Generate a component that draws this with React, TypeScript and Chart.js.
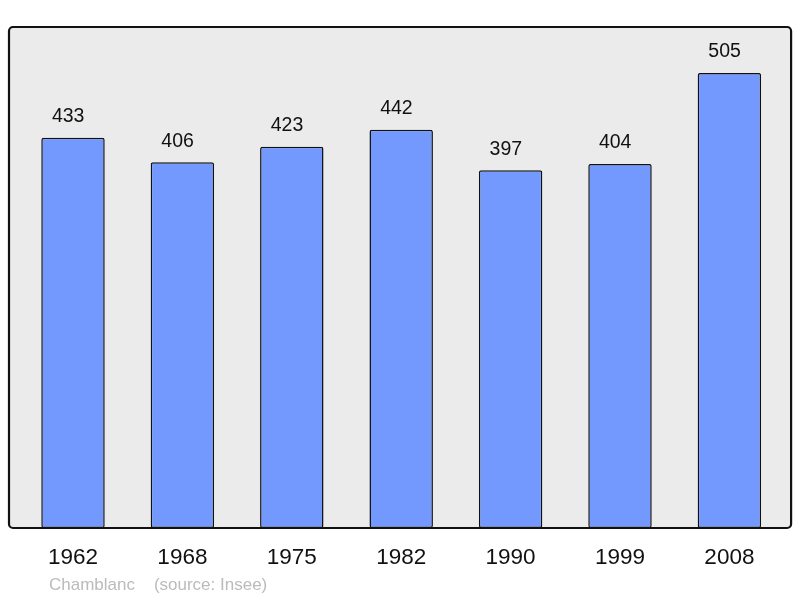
import React, { useEffect, useRef } from "react";
import { Chart, registerables } from "chart.js";

Chart.register(...registerables);

const years = ["1962", "1968", "1975", "1982", "1990", "1999", "2008"];
const population = [433, 406, 423, 442, 397, 404, 505];
const sourceText = "Chamblanc    (source: Insee)";

const FONT = "'Liberation Sans', Arial, sans-serif";

const framePlugin = {
  id: "frame",
  beforeDraw(chart: any) {
    const { ctx, chartArea } = chart;
    const x0 = chartArea.left - 9.3;
    const x1 = chartArea.right + 7;
    const y0 = chartArea.top;
    const y1 = chartArea.bottom;
    ctx.save();
    ctx.beginPath();
    if (ctx.roundRect) ctx.roundRect(x0, y0, x1 - x0, y1 - y0, 4);
    else ctx.rect(x0, y0, x1 - x0, y1 - y0);
    ctx.fillStyle = "#ebebeb";
    ctx.fill();
    ctx.restore();
  },
  afterDatasetsDraw(chart: any) {
    const { ctx, chartArea } = chart;
    const x0 = chartArea.left - 9.3;
    const x1 = chartArea.right + 7;
    const y0 = chartArea.top;
    const y1 = chartArea.bottom;
    ctx.save();
    ctx.beginPath();
    if (ctx.roundRect) ctx.roundRect(x0, y0, x1 - x0, y1 - y0, 4);
    else ctx.rect(x0, y0, x1 - x0, y1 - y0);
    ctx.lineWidth = 2.2;
    ctx.strokeStyle = "#111";
    ctx.stroke();

    // value labels
    const meta = chart.getDatasetMeta(0);
    ctx.fillStyle = "#111";
    ctx.font = `19.5px ${FONT}`;
    ctx.textAlign = "center";
    ctx.textBaseline = "middle";
    meta.data.forEach((bar: any, i: number) => {
      ctx.fillText(String(chart.data.datasets[0].data[i]), bar.x - 4.8, bar.y - 21);
    });

    // source text
    ctx.fillStyle = "#bbbbbb";
    ctx.font = `17px ${FONT}`;
    ctx.textAlign = "left";
    ctx.textBaseline = "middle";
    ctx.fillText(sourceText, 49, 585);
    ctx.restore();
  },
};

export default function App() {
  const canvasRef = useRef<HTMLCanvasElement | null>(null);

  useEffect(() => {
    document.body.style.margin = "0";
    const canvas = canvasRef.current;
    if (!canvas) return;
    const chart = new Chart(canvas, {
      type: "bar",
      data: {
        labels: years,
        datasets: [
          {
            data: population,
            backgroundColor: "rgb(115,153,255)",
            borderColor: "#111",
            borderWidth: 1.5,
            borderRadius: 2,
            borderSkipped: false,
            barPercentage: 0.58,
            categoryPercentage: 1,
          },
        ],
      },
      plugins: [framePlugin],
      options: {
        animation: false,
        responsive: false,
        maintainAspectRatio: false,
        devicePixelRatio: 1,
        layout: { padding: { left: 18.3, right: 15.9, top: 27, bottom: 0 } },
        plugins: { legend: { display: false }, tooltip: { enabled: false }, title: { display: false } },
        scales: {
          x: {
            offset: true,
            grid: { display: false, drawTicks: false },
            border: { display: false },
            ticks: {
              color: "#111",
              padding: 16,
              maxRotation: 0,
              font: { size: 22.5, family: FONT },
            },
            afterFit: (s: any) => {
              s.height = 70;
            },
          },
          y: {
            display: false,
            min: 0,
            max: 556,
          },
        },
      },
    });
    return () => chart.destroy();
  }, []);

  return (
    <div style={{ width: 800, height: 598, background: "#fff" }}>
      <canvas ref={canvasRef} width={800} height={598} style={{ display: "block", width: 800, height: 598 }} />
    </div>
  );
}
